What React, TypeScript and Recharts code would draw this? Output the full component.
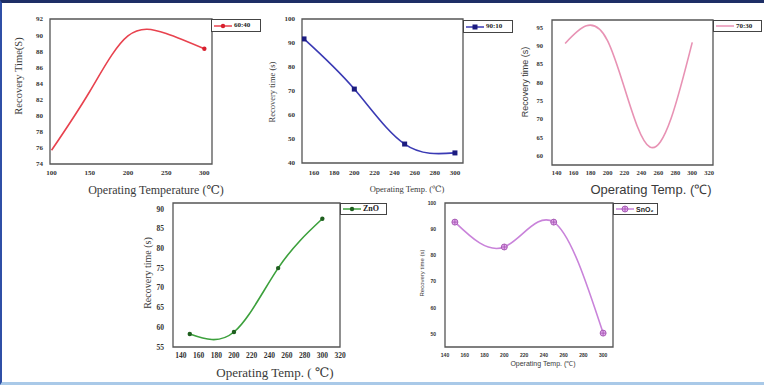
import React from 'react';
import { LineChart, Line, XAxis, YAxis, Legend, ReferenceArea } from 'recharts';

// operating temperatures (℃)
const temps = [150, 200, 250, 300];
const temps6040 = [100, 150, 200, 250, 300];

// recovery times (s)
const rec6040 = [75.7, 83.0, 89.9, 90.2, 88.3];
const rec9010 = [91.7, 70.8, 47.9, 44.2];
const rec7030 = [90.6, 91.4, 62.4, 90.9];
const recZnO = [58.3, 58.8, 75.0, 87.5];
const recSnO2 = [92.7, 83.2, 92.7, 50.3];

// tick labels
const xTicks6040 = [100, 150, 200, 250, 300];
const xTicks9010 = [160, 180, 200, 220, 240, 260, 280, 300];
const xTicksWide = [140, 160, 180, 200, 220, 240, 260, 280, 300, 320];
const xTicksSnO2 = [140, 160, 180, 200, 220, 240, 260, 280, 300];
const yTicks6040 = [74, 76, 78, 80, 82, 84, 86, 88, 90, 92];
const yTicks9010 = [40, 50, 60, 70, 80, 90, 100];
const yTicks7030 = [60, 65, 70, 75, 80, 85, 90, 95];
const yTicksZnO = [55, 60, 65, 70, 75, 80, 85, 90];
const yTicksSnO2 = [50, 60, 70, 80, 90, 100];

const rows = (xs: number[], ys: number[]) => xs.map((t, i) => ({ t, v: ys[i] }));

const SERIF = '"Liberation Serif", "DejaVu Serif", serif';
const SANS = '"Liberation Sans", Arial, sans-serif';

type Marker = 'none' | 'last' | 'circle' | 'square' | 'star';

interface PanelProps {
  chart: [number, number, number, number]; // left, top, width, height (page px)
  plot: [number, number, number, number]; // left, top, right, bottom (page px)
  data: { t: number; v: number }[];
  xDomain: [number, number];
  xTicks: number[];
  yDomain: [number, number];
  yTicks: number[];
  name: string;
  color: string;
  markerColor: string;
  marker: Marker;
  xTitle: string;
  xTitlePos: [number, number];
  xTitleSize: number;
  yTitle: string;
  yTitlePos: [number, number];
  yTitleSize: number;
  titleFont: string;
  tickFont: string;
  tickSize: number;
  xTickTop: number;
  yTickRight: number;
  legend: [number, number, number, number]; // left, top, right, bottom (page px)
  legendSize: number;
}

const drawMarker = (kind: Marker, cx: number, cy: number, color: string, key?: string | number) => {
  if (kind === 'square') {
    return <rect key={key} x={cx - 2.5} y={cy - 2.5} width={5} height={5} fill={color} />;
  }
  if (kind === 'star') {
    return (
      <g key={key}>
        <circle cx={cx} cy={cy} r={3} fill="#e4a8ee" stroke={color} strokeWidth={0.8} />
        <path d={`M${cx - 3},${cy}L${cx + 3},${cy}M${cx},${cy - 3}L${cx},${cy + 3}`} stroke={color} strokeWidth={0.7} />
      </g>
    );
  }
  if (kind === 'none') return <g key={key} />;
  return <circle key={key} cx={cx} cy={cy} r={kind === 'last' ? 2.5 : 2.2} fill={color} />;
};

const Panel: React.FC<PanelProps> = (p) => {
  const [cl, ct, cw, ch] = p.chart;
  const [pl, pt, pr, pb] = p.plot;
  const [ll, lt, lr, lb] = p.legend;
  const tickStyle = { fontSize: p.tickSize, fontFamily: p.tickFont, fill: '#333', fontWeight: 600 };
  const last = p.data.length - 1;

  const renderDot = (props: any) => {
    const { cx, cy, index } = props;
    if (p.marker === 'none' || (p.marker === 'last' && index !== last)) return <g key={`d${index}`} />;
    return drawMarker(p.marker === 'last' ? 'circle' : p.marker, cx, cy, p.markerColor, `d${index}`);
  };

  const xTitle = () => (
    <text x={p.xTitlePos[0] - cl} y={p.xTitlePos[1] - ct} textAnchor="middle" dominantBaseline="central"
      fontFamily={p.titleFont} fontSize={p.xTitleSize} fill="#3a3a3a">
      {p.xTitle}
    </text>
  );
  const yTitle = () => {
    const x = p.yTitlePos[0] - cl;
    const y = p.yTitlePos[1] - ct;
    return (
      <text x={x} y={y} transform={`rotate(-90 ${x} ${y})`} textAnchor="middle" dominantBaseline="central"
        fontFamily={p.titleFont} fontSize={p.yTitleSize} fill="#3a3a3a">
        {p.yTitle}
      </text>
    );
  };

  return (
    <div style={{ position: 'absolute', left: cl, top: ct, width: cw, height: ch }}>
      <LineChart width={cw} height={ch} data={p.data}
        margin={{ top: pt - ct, right: cl + cw - pr, left: 0, bottom: 0 }}>
        <XAxis dataKey="t" type="number" domain={p.xDomain} ticks={p.xTicks} allowDataOverflow
          height={ct + ch - pb} tick={tickStyle} tickLine={false} tickSize={2} tickMargin={p.xTickTop - pb - 2}
          axisLine={false} interval={0} label={xTitle} />
        <YAxis type="number" domain={p.yDomain} ticks={p.yTicks} allowDataOverflow width={pl - cl}
          tick={tickStyle} tickLine={false} tickSize={2} tickMargin={pl - p.yTickRight - 2}
          axisLine={false} interval={0} label={yTitle} />
        <ReferenceArea x1={p.xDomain[0]} x2={p.xDomain[1]} y1={p.yDomain[0]} y2={p.yDomain[1]}
          fill="none" fillOpacity={0} stroke="#555" strokeWidth={1.3} ifOverflow="visible" />
        <Legend verticalAlign="middle" align="right" layout="horizontal"
          wrapperStyle={{ left: ll - cl, top: lt - ct, width: lr - ll, height: lb - lt }}
          content={() => (
            <div style={{
              boxSizing: 'border-box', width: lr - ll, height: lb - lt, border: '1px solid #444',
              background: '#fff', display: 'flex', alignItems: 'center', gap: 2, padding: '0 2px',
              fontFamily: p.tickFont, fontSize: p.legendSize, fontWeight: 600, color: '#222', lineHeight: 1,
            }}>
              <svg width={18} height={8} style={{ flex: 'none' }}>
                <line x1={0} y1={4} x2={18} y2={4} stroke={p.color} strokeWidth={1.5} />
                {p.marker !== 'none' && drawMarker(p.marker === 'last' ? 'circle' : p.marker, 9, 4, p.markerColor)}
              </svg>
              <span>{p.name}</span>
            </div>
          )} />
        <Line type="natural" dataKey="v" stroke={p.color} strokeWidth={1.6} dot={renderDot}
          activeDot={false} isAnimationActive={false} />
      </LineChart>
    </div>
  );
};

export default function App() {
  return (
    <div style={{ position: 'absolute', left: 0, top: 0, width: 764, height: 385, background: '#fff', overflow: 'hidden' }}>
      <Panel chart={[0, 0, 272, 200]} plot={[50, 19, 262, 164]} data={rows(temps6040, rec6040)}
        xDomain={[98, 310]} xTicks={xTicks6040} yDomain={[74, 92]} yTicks={yTicks6040}
        name="60:40" color="#e8424e" markerColor="#d8202e" marker="last"
        xTitle="Operating Temperature (℃)" xTitlePos={[156, 190]} xTitleSize={12}
        yTitle="Recovery Time(S)" yTitlePos={[18, 76]} yTitleSize={10.5}
        titleFont={SERIF} tickFont={SERIF} tickSize={7} xTickTop={170} yTickRight={43}
        legend={[211, 19, 261, 32]} legendSize={7} />
      <Panel chart={[262, 0, 254, 200]} plot={[302, 19, 513, 163]} data={rows(temps, rec9010)}
        xDomain={[148, 308]} xTicks={xTicks9010} yDomain={[40, 100]} yTicks={yTicks9010}
        name="90:10" color="#3a3ab4" markerColor="#1c1c80" marker="square"
        xTitle="Operating Temp. (℃)" xTitlePos={[407, 189]} xTitleSize={8.5}
        yTitle="Recovery time (s)" yTitlePos={[272, 92]} yTitleSize={8.5}
        titleFont={SERIF} tickFont={SERIF} tickSize={7} xTickTop={170} yTickRight={295}
        legend={[463, 20, 513, 33]} legendSize={7} />
      <Panel chart={[515, 0, 249, 200]} plot={[552, 20, 762, 165]} data={rows(temps, rec7030)}
        xDomain={[134.5, 324.5]} xTicks={xTicksWide} yDomain={[57.5, 97]} yTicks={yTicks7030}
        name="70:30" color="#e892b4" markerColor="#e892b4" marker="none"
        xTitle="Operating Temp. (℃)" xTitlePos={[651, 189]} xTitleSize={13}
        yTitle="Recovery time (s)" yTitlePos={[525, 82]} yTitleSize={9}
        titleFont={SANS} tickFont={SERIF} tickSize={6.5} xTickTop={170} yTickRight={543}
        legend={[713, 20, 762, 32]} legendSize={7} />
      <Panel chart={[130, 195, 265, 190]} plot={[173, 203, 387, 347]} data={rows(temps, recZnO)}
        xDomain={[131, 320]} xTicks={xTicksWide} yDomain={[55, 91.5]} yTicks={yTicksZnO}
        name="ZnO" color="#3ca03c" markerColor="#1f5f1f" marker="circle"
        xTitle="Operating Temp. ( ℃)" xTitlePos={[275, 372]} xTitleSize={13}
        yTitle="Recovery time (s)" yTitlePos={[147, 273]} yTitleSize={10}
        titleFont={SERIF} tickFont={SERIF} tickSize={7.5} xTickTop={353} yTickRight={164}
        legend={[340, 203, 387, 215]} legendSize={8} />
      <Panel chart={[400, 195, 270, 190]} plot={[445, 203, 658, 347]} data={rows(temps, recSnO2)}
        xDomain={[140, 310]} xTicks={xTicksSnO2} yDomain={[45, 100]} yTicks={yTicksSnO2}
        name="SnO₂" color="#c983da" markerColor="#9a4aa8" marker="star"
        xTitle="Operating Temp. (℃)" xTitlePos={[543, 363]} xTitleSize={7}
        yTitle="Recovery time (s)" yTitlePos={[422, 273]} yTitleSize={6}
        titleFont={SANS} tickFont={SANS} tickSize={5} xTickTop={353} yTickRight={436}
        legend={[613, 203, 658, 215]} legendSize={7} />
      <div style={{
        position: 'absolute', left: 0, top: 0, width: 764, height: 385, boxSizing: 'border-box',
        borderTop: '3px solid #1e2f66', borderLeft: '2px solid #2f4fa6', borderBottom: '3px solid #a9c9e8',
        pointerEvents: 'none',
      }} />
    </div>
  );
}
